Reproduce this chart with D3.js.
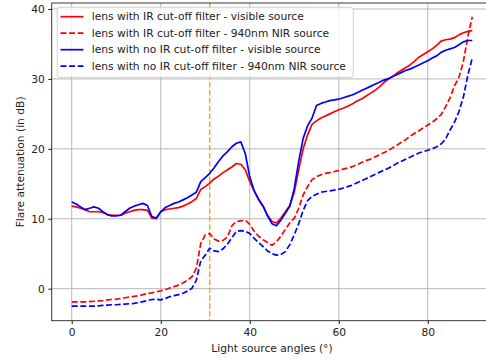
<!DOCTYPE html>
<html>
<head>
<meta charset="utf-8">
<script src="https://cdn.jsdelivr.net/npm/d3@7"></script>
<style>
  body { margin: 0; background: #fff; }
  svg { display: block; font-family: 'DejaVu Sans', sans-serif; }
</style>
</head>
<body>
<div id="chart"></div>
<script>
// light source angle in degrees, one sample per degree
const angles = [
  0, 1, 2, 3, 4, 5, 6, 7, 8, 9, 10, 11, 12, 13, 14, 15, 16, 17, 18, 19,
  20, 21, 22, 23, 24, 25, 26, 27, 28, 29, 30, 31, 32, 33, 34, 35, 36, 37, 38, 39,
  40, 41, 42, 43, 44, 45, 46, 47, 48, 49, 50, 51, 52, 53, 54, 55, 56, 57, 58, 59,
  60, 61, 62, 63, 64, 65, 66, 67, 68, 69, 70, 71, 72, 73, 74, 75, 76, 77, 78, 79,
  80, 81, 82, 83, 84, 85, 86, 87, 88, 89, 90
];

// lens with IR cut-off filter - visible source
const irVisible = [
  11.8, 11.7, 11.5, 11.3, 11.0, 11.0, 11.0, 10.9, 10.6, 10.5,
  10.5, 10.5, 10.8, 11.0, 11.2, 11.3, 11.3, 11.2, 10.1, 10.0,
  11.0, 11.3, 11.4, 11.5, 11.6, 11.8, 12.1, 12.45, 12.9, 14.2,
  14.6, 15.1, 15.7, 16.1, 16.6, 17.0, 17.4, 17.9, 17.8, 17.0,
  15.3, 14.0, 12.7, 11.8, 10.5, 9.6, 9.4, 10.1, 11.0, 11.9,
  13.8, 17.0, 20.0, 22.0, 23.5, 24.0, 24.4, 24.7, 25.0, 25.3,
  25.6, 25.8, 26.1, 26.4, 26.8, 27.1, 27.5, 27.9, 28.3, 28.8,
  29.4, 29.9, 30.3, 30.8, 31.2, 31.6, 32.0, 32.5, 33.1, 33.5,
  33.9, 34.3, 34.8, 35.4, 35.6, 35.7, 35.9, 36.3, 36.6, 36.8,
  36.9
];

// lens with IR cut-off filter - 940nm NIR source
const irNir = [
  -1.9, -1.9, -1.9, -1.9, -1.85, -1.8, -1.75, -1.7, -1.6, -1.55,
  -1.5, -1.4, -1.3, -1.2, -1.1, -1.0, -0.85, -0.7, -0.6, -0.45,
  -0.3, -0.15, 0.1, 0.3, 0.5, 0.8, 1.2, 1.7, 2.9, 6.5,
  7.7, 7.9, 7.1, 6.8, 6.9, 7.4, 9.0, 9.6, 9.7, 9.8,
  9.2, 8.2, 7.5, 7.0, 6.6, 6.2, 6.7, 7.5, 8.5, 9.4,
  10.1, 11.5, 13.4, 14.6, 15.6, 16.0, 16.3, 16.5, 16.6, 16.75,
  16.9, 17.1, 17.25, 17.45, 17.7, 18.0, 18.3, 18.5, 18.8, 19.1,
  19.4, 19.7, 20.1, 20.5, 20.9, 21.3, 21.8, 22.2, 22.6, 23.0,
  23.4, 23.8, 24.3, 24.9, 26.0, 27.3, 29.0, 30.2, 32.5, 36.0,
  38.9
];

// lens with no IR cut-off filter - visible source
const noIrVisible = [
  12.4, 12.1, 11.7, 11.3, 11.5, 11.7, 11.5, 11.0, 10.6, 10.4,
  10.4, 10.5, 11.0, 11.5, 11.8, 12.0, 12.2, 11.9, 10.3, 10.1,
  11.0, 11.6, 11.9, 12.2, 12.4, 12.7, 13.0, 13.4, 13.8, 15.3,
  15.9, 16.5, 17.3, 18.2, 19.0, 19.6, 20.3, 20.8, 21.0, 19.3,
  16.0, 14.0, 12.8, 11.8, 10.4, 9.3, 9.0, 9.8, 10.8, 11.8,
  14.3, 18.2, 21.5, 23.3, 24.4, 26.2, 26.5, 26.7, 26.9, 27.0,
  27.1, 27.3, 27.5, 27.7, 28.0, 28.3, 28.6, 28.9, 29.2, 29.5,
  29.8, 30.0, 30.3, 30.6, 30.9, 31.2, 31.4, 31.7, 32.0, 32.3,
  32.6, 33.0, 33.3, 33.8, 34.1, 34.3, 34.5, 34.9, 35.3, 35.5,
  35.5
];

// lens with no IR cut-off filter - 940nm NIR source
const noIrNir = [
  -2.5, -2.5, -2.5, -2.5, -2.5, -2.5, -2.45, -2.4, -2.35, -2.3,
  -2.3, -2.25, -2.2, -2.15, -2.1, -2.0, -1.85, -1.7, -1.55, -1.5,
  -1.6, -1.4, -1.15, -1.0, -0.85, -0.65, -0.35, 0.05, 1.2, 4.0,
  4.8, 5.8, 5.4, 5.3, 5.7, 6.4, 7.3, 8.2, 8.3, 8.2,
  7.9, 7.2, 6.6, 6.0, 5.4, 5.0, 4.8, 4.9, 5.3, 6.3,
  7.7, 9.3, 11.2, 12.6, 13.2, 13.5, 13.8, 13.9, 14.0, 14.1,
  14.2, 14.4, 14.6, 14.8, 15.1, 15.4, 15.7, 16.0, 16.3, 16.6,
  16.9, 17.2, 17.5, 17.9, 18.2, 18.5, 18.8, 19.1, 19.4, 19.6,
  19.8, 20.0, 20.3, 20.7, 21.4, 22.7, 23.8, 25.3, 27.4, 30.5,
  33.0
];

const seriesNames = [
  'lens with IR cut-off filter - visible source',
  'lens with IR cut-off filter - 940nm NIR source',
  'lens with no IR cut-off filter - visible source',
  'lens with no IR cut-off filter - 940nm NIR source'
];
const seriesValues = [irVisible, irNir, noIrVisible, noIrNir];
const seriesColors = ['#ff0000', '#ff0000', '#0000ff', '#0000ff'];
const seriesDashed = [false, true, false, true];

const xTicks = [0, 20, 40, 60, 80];
const yTicks = [0, 10, 20, 30, 40];
const cutoffAngle = 31;

const svgWidth = 486, svgHeight = 358;
const plot = { left: 51.7, top: 3, right: 492.3, bottom: 320.7 };
const fontSize = 10.7;
const lineWidth = 1.7;

const svg = d3.select('#chart')
  .append('svg')
  .attr('width', svgWidth)
  .attr('height', svgHeight);

const x = d3.scaleLinear().domain([-4.5, 94.5]).range([plot.left, plot.right]);
const y = d3.scaleLinear().domain([-4.58, 40.86]).range([plot.bottom, plot.top]);

// grid
const grid = svg.append('g').attr('stroke', '#b0b0b0').attr('stroke-width', 0.9);
xTicks.forEach((t) => {
  grid.append('line')
    .attr('x1', x(t)).attr('x2', x(t))
    .attr('y1', plot.top).attr('y2', plot.bottom);
});
yTicks.forEach((t) => {
  grid.append('line')
    .attr('x1', plot.left).attr('x2', plot.right)
    .attr('y1', y(t)).attr('y2', y(t));
});

// vertical cut-off marker
svg.append('line')
  .attr('x1', x(cutoffAngle)).attr('x2', x(cutoffAngle))
  .attr('y1', plot.top).attr('y2', plot.bottom)
  .attr('stroke', 'orange')
  .attr('stroke-width', 1.4)
  .attr('stroke-dasharray', '5.5,2.4');

// series lines
const line = d3.line()
  .x((d) => x(d[0]))
  .y((d) => y(d[1]));

seriesValues.forEach((vals, i) => {
  svg.append('path')
    .datum(angles.map((a, j) => [a, vals[j]]))
    .attr('d', line)
    .attr('fill', 'none')
    .attr('stroke', seriesColors[i])
    .attr('stroke-width', lineWidth)
    .attr('stroke-linejoin', 'round')
    .attr('stroke-dasharray', seriesDashed[i] ? '6,2.6' : null);
});

// axes
const xAxis = svg.append('g')
  .attr('transform', `translate(0,${plot.bottom})`)
  .call(d3.axisBottom(x).tickValues(xTicks).tickSize(3.4).tickPadding(4));
const yAxis = svg.append('g')
  .attr('transform', `translate(${plot.left},0)`)
  .call(d3.axisLeft(y).tickValues(yTicks).tickSize(3.4).tickPadding(3.5));
[xAxis, yAxis].forEach((ax) => {
  ax.select('.domain').remove();
  ax.selectAll('line').attr('stroke', '#000').attr('stroke-width', 0.9);
  ax.selectAll('text')
    .attr('fill', '#222')
    .style('font-size', fontSize + 'px')
    .style('font-family', 'DejaVu Sans');
});

// spines (right one falls outside the picture)
svg.append('rect')
  .attr('x', plot.left).attr('y', plot.top)
  .attr('width', plot.right - plot.left)
  .attr('height', plot.bottom - plot.top)
  .attr('fill', 'none')
  .attr('stroke', '#222')
  .attr('stroke-width', 0.9);

// axis labels
svg.append('text')
  .attr('x', (plot.left + plot.right) / 2)
  .attr('y', 351.5)
  .attr('text-anchor', 'middle')
  .attr('fill', '#222')
  .style('font-size', fontSize + 'px')
  .text('Light source angles (°)');

svg.append('text')
  .attr('transform', `translate(23.5,${(plot.top + plot.bottom) / 2}) rotate(-90)`)
  .attr('text-anchor', 'middle')
  .attr('fill', '#222')
  .style('font-size', fontSize + 'px')
  .text('Flare attenuation (in dB)');

// legend
const legend = svg.append('g');
legend.append('rect')
  .attr('x', 57.2).attr('y', 7.3)
  .attr('width', 296).attr('height', 70)
  .attr('rx', 2.5)
  .attr('fill', 'rgba(255,255,255,0.8)')
  .attr('stroke', '#cccccc')
  .attr('stroke-width', 0.9);

seriesNames.forEach((name, i) => {
  const cy = 16.7 + i * 16.5;
  legend.append('line')
    .attr('x1', 60.5).attr('x2', 83.5)
    .attr('y1', cy).attr('y2', cy)
    .attr('stroke', seriesColors[i])
    .attr('stroke-width', lineWidth)
    .attr('stroke-dasharray', seriesDashed[i] ? '6,2.6' : null);
  legend.append('text')
    .attr('x', 91.7).attr('y', cy)
    .attr('dy', '0.35em')
    .style('font-size', fontSize + 'px')
    .attr('fill', '#222')
    .text(name);
});
</script>
</body>
</html>
